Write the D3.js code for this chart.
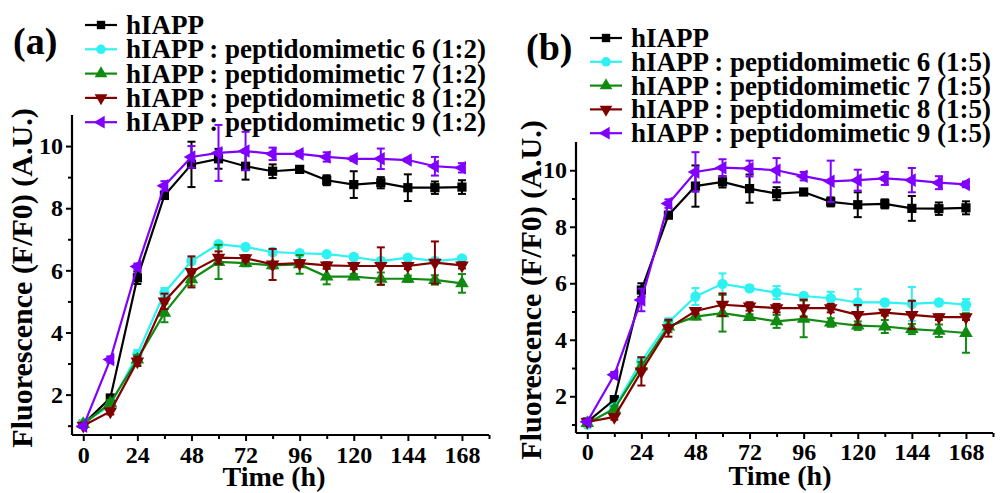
<!DOCTYPE html>
<html><head><meta charset="utf-8">
<script src="https://cdn.jsdelivr.net/npm/d3@7"></script>
<style>
html,body{margin:0;padding:0;background:#fff;}
</style></head>
<body>
<svg id="chart" width="1004" height="493"></svg>
<script>
// ---------- data ----------
const times = [0,12,24,36,48,60,72,84,96,108,120,132,144,156,168];
const xTicks = [0,24,48,72,96,120,144,168];
const yTicks = [2,4,6,8,10];
const seriesColors = ["#000000","#2ef2f2","#108a10","#800000","#8000ff"];
const seriesSymbols = ["square","circle","triangleUp","triangleDown","triangleLeft"];
const legendA = ["hIAPP","hIAPP : peptidomimetic 6 (1:2)","hIAPP : peptidomimetic 7 (1:2)","hIAPP : peptidomimetic 8 (1:2)","hIAPP : peptidomimetic 9 (1:2)"];
const legendB = ["hIAPP","hIAPP : peptidomimetic 6 (1:5)","hIAPP : peptidomimetic 7 (1:5)","hIAPP : peptidomimetic 8 (1:5)","hIAPP : peptidomimetic 9 (1:5)"];

// panel (a)
const aHIAPP = [1.05,1.89,5.76,8.41,9.41,9.59,9.35,9.19,9.25,8.90,8.76,8.82,8.66,8.66,8.68];
const aHIAPPErr = [0.05,0.10,0.20,0.10,0.73,0.32,0.43,0.22,0.05,0.16,0.43,0.18,0.43,0.20,0.22];
const aP6 = [1.08,1.65,3.29,5.28,6.30,6.84,6.75,6.59,6.55,6.52,6.43,6.30,6.41,6.30,6.38];
const aP6Err = [0.05,0.10,0.15,0.15,0.10,0.08,0.06,0.10,0.05,0.06,0.08,0.10,0.08,0.10,0.06];
const aP7 = [1.05,1.73,3.13,4.63,5.71,6.27,6.23,6.16,6.19,5.80,5.80,5.73,5.73,5.69,5.58];
const aP7Err = [0.05,0.10,0.15,0.30,0.20,0.55,0.10,0.10,0.30,0.25,0.08,0.20,0.10,0.15,0.30];
const aP8 = [1.00,1.46,3.07,5.00,5.95,6.41,6.39,6.19,6.23,6.16,6.14,6.14,6.14,6.25,6.16];
const aP8Err = [0.05,0.10,0.15,0.25,0.50,0.20,0.10,0.50,0.10,0.10,0.10,0.60,0.10,0.68,0.10];
const aP9 = [0.98,3.13,6.12,8.72,9.65,9.78,9.84,9.75,9.75,9.65,9.59,9.59,9.55,9.35,9.30];
const aP9Err = [0.05,0.10,0.10,0.15,0.35,0.90,0.62,0.20,0.08,0.15,0.07,0.33,0.05,0.30,0.15];

// panel (b)
const bHIAPP = [1.09,1.88,5.76,8.41,9.44,9.59,9.35,9.17,9.23,8.88,8.78,8.81,8.65,8.64,8.67];
const bHIAPPErr = [0.05,0.10,0.24,0.10,0.73,0.20,0.50,0.23,0.05,0.16,0.44,0.16,0.44,0.22,0.23];
const bP6 = [1.00,1.60,3.24,4.61,5.53,5.98,5.82,5.67,5.55,5.47,5.32,5.32,5.27,5.32,5.24];
const bP6Err = [0.05,0.10,0.15,0.15,0.30,0.37,0.10,0.23,0.08,0.23,0.47,0.10,0.60,0.10,0.20];
const bP7 = [1.05,1.55,3.06,4.47,4.82,4.94,4.80,4.65,4.74,4.61,4.50,4.47,4.38,4.32,4.24];
const bP7Err = [0.05,0.10,0.15,0.20,0.10,0.65,0.10,0.23,0.65,0.15,0.15,0.23,0.18,0.22,0.70];
const bP8 = [1.09,1.27,2.88,4.41,5.02,5.24,5.18,5.12,5.12,5.12,4.88,4.96,4.88,4.80,4.80];
const bP8Err = [0.05,0.10,0.50,0.30,0.10,0.40,0.15,0.15,0.30,0.15,0.35,0.10,0.50,0.10,0.10];
const bP9 = [1.10,2.76,5.41,8.82,9.94,10.09,10.06,10.00,9.79,9.61,9.65,9.71,9.65,9.56,9.50];
const bP9Err = [0.05,0.10,0.40,0.15,0.70,0.30,0.28,0.43,0.15,0.73,0.37,0.23,0.43,0.23,0.10];

// ---------- drawing ----------
const FONT = "'Liberation Serif', 'Times New Roman', Times, 'DejaVu Serif', serif";
const svg = d3.select("#chart");

function symbolPath(kind, size) {
  const t = kind === "square" ? d3.symbolSquare : kind === "circle" ? d3.symbolCircle : d3.symbolTriangle;
  return d3.symbol().type(t).size(size)();
}
function symbolRotate(kind) {
  return kind === "triangleDown" ? 180 : kind === "triangleLeft" ? -90 : 0;
}
function styleText(sel, size) {
  sel.style("font-family", FONT).style("font-weight", "bold").style("font-size", size + "px").attr("fill", "#000");
}

function drawPanel(cfg) {
  const g = svg.append("g");
  const x = d3.scaleLinear().domain([-5, 180]).range([cfg.left, cfg.right]);
  const y = d3.scaleLinear().domain([0.7, 11]).range([cfg.bottom, cfg.top]);

  cfg.series.forEach((s, si) => {
    const col = seriesColors[si];
    const sg = g.append("g");
    const line = d3.line().x((d, i) => x(times[i])).y(d => y(d));
    sg.append("path").datum(s.v).attr("d", line).attr("fill", "none")
      .attr("stroke", col).attr("stroke-width", 2.2);
    const eb = sg.selectAll(".eb").data(s.v).enter().append("g");
    eb.append("line").attr("x1", (d, i) => x(times[i])).attr("x2", (d, i) => x(times[i]))
      .attr("y1", (d, i) => y(d - s.e[i])).attr("y2", (d, i) => y(d + s.e[i]))
      .attr("stroke", col).attr("stroke-width", 2);
    [1, -1].forEach(sign => {
      eb.append("line").attr("x1", (d, i) => x(times[i]) - 4).attr("x2", (d, i) => x(times[i]) + 4)
        .attr("y1", (d, i) => y(d + sign * s.e[i])).attr("y2", (d, i) => y(d + sign * s.e[i]))
        .attr("stroke", col).attr("stroke-width", 2);
    });
    const kind = seriesSymbols[si];
    sg.selectAll(".mk").data(s.v).enter().append("path")
      .attr("d", symbolPath(kind, kind === "circle" || kind === "square" ? 85 : 80))
      .attr("transform", (d, i) => `translate(${x(times[i])},${y(d)}) rotate(${symbolRotate(kind)})`)
      .attr("fill", col);
  });

  const xAxis = d3.axisBottom(x).tickValues(xTicks).tickSize(6).tickPadding(cfg.xPad).tickFormat(d3.format("d"));
  const xa = g.append("g").attr("transform", `translate(0,${cfg.bottom})`).call(xAxis);
  const xMinor = d3.axisBottom(x).tickValues([12,36,60,84,108,132,156,180]).tickSize(4).tickFormat("");
  g.append("g").attr("transform", `translate(0,${cfg.bottom})`).call(xMinor).select(".domain").remove();
  const yAxis = d3.axisLeft(y).tickValues(yTicks).tickSize(6).tickPadding(3).tickFormat(d3.format("d"));
  const ya = g.append("g").attr("transform", `translate(${cfg.left},0)`).call(yAxis);
  const yMinor = d3.axisLeft(y).tickValues([1,3,5,7,9]).tickSize(4).tickFormat("");
  g.append("g").attr("transform", `translate(${cfg.left},0)`).call(yMinor).select(".domain").remove();
  g.selectAll(".domain").attr("stroke", "#000").attr("stroke-width", 2.2);
  g.selectAll(".tick line").attr("stroke", "#000").attr("stroke-width", 2);
  xa.selectAll("text").call(styleText, 24).attr("dy", "0.7em");
  ya.selectAll("text").call(styleText, 24);
  xa.select(".domain").attr("d", `M${cfg.left},0H${cfg.right}`);
  ya.select(".domain").attr("d", `M0,${cfg.bottom}V${cfg.top}`);

  g.append("text").attr("x", cfg.xTitleX).attr("y", cfg.xTitleY).attr("text-anchor", "middle")
    .call(styleText, 28).text("Time (h)");
  g.append("text").attr("transform", `translate(${cfg.yTitleX},${cfg.yTitleY}) rotate(-90)`)
    .attr("text-anchor", "middle").call(styleText, 30).text("Fluorescence (F/F0) (A.U.)");

  g.append("text").attr("x", cfg.labelX).attr("y", cfg.labelY).call(styleText, 38).text(cfg.label);

  const lg = g.append("g");
  cfg.legend.forEach((txt, i) => {
    const ly = cfg.legY + i * cfg.legGap;
    const col = seriesColors[i];
    lg.append("line").attr("x1", cfg.legX).attr("x2", cfg.legX + 32).attr("y1", ly).attr("y2", ly)
      .attr("stroke", col).attr("stroke-width", 2.2);
    const kind = seriesSymbols[i];
    lg.append("path").attr("d", symbolPath(kind, 70))
      .attr("transform", `translate(${cfg.legX + 16},${ly}) rotate(${symbolRotate(kind)})`).attr("fill", col);
    lg.append("text").attr("x", cfg.legX + 41).attr("y", ly + 9).call(styleText, 27).text(txt);
  });
}

drawPanel({
  left: 72, right: 489, top: 115, bottom: 435, xPad: 5,
  series: [{v: aHIAPP, e: aHIAPPErr}, {v: aP6, e: aP6Err}, {v: aP7, e: aP7Err}, {v: aP8, e: aP8Err}, {v: aP9, e: aP9Err}],
  legend: legendA, legX: 85, legY: 25, legGap: 24.3,
  label: "(a)", labelX: 13, labelY: 54,
  xTitleX: 274, xTitleY: 486, yTitleX: 32, yTitleY: 278
});
drawPanel({
  left: 576, right: 993, top: 142, bottom: 433, xPad: 4,
  series: [{v: bHIAPP, e: bHIAPPErr}, {v: bP6, e: bP6Err}, {v: bP7, e: bP7Err}, {v: bP8, e: bP8Err}, {v: bP9, e: bP9Err}],
  legend: legendB, legX: 590, legY: 38, legGap: 23.8,
  label: "(b)", labelX: 526, labelY: 60,
  xTitleX: 780, xTitleY: 485, yTitleX: 541, yTitleY: 290
});
</script>
</body></html>
